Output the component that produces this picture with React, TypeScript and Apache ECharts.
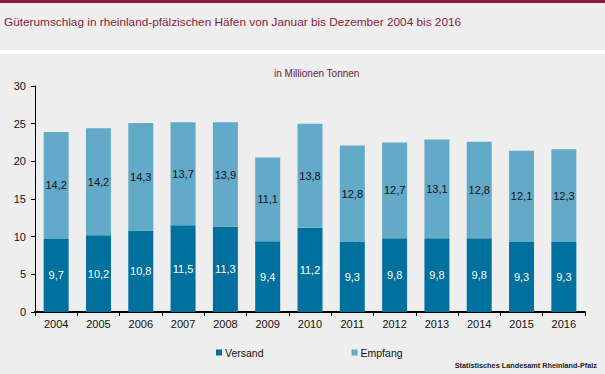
import React, { useEffect, useRef } from "react";
import * as echarts from "echarts";

const years = ["2004", "2005", "2006", "2007", "2008", "2009", "2010", "2011", "2012", "2013", "2014", "2015", "2016"];
const versand = [9.7, 10.2, 10.8, 11.5, 11.3, 9.4, 11.2, 9.3, 9.8, 9.8, 9.8, 9.3, 9.3];
const empfang = [14.2, 14.2, 14.3, 13.7, 13.9, 11.1, 13.8, 12.8, 12.7, 13.1, 12.8, 12.1, 12.3];
const seriesNames = ["Versand", "Empfang"];
const titleText = "Güterumschlag in rheinland-pfälzischen Häfen von Januar bis Dezember 2004 bis 2016";
const unitText = "in Millionen Tonnen";
const sourceText = "Statistisches Landesamt Rheinland-Pfalz";

const fmt = (v: number) => v.toFixed(1).replace(".", ",");
const FONT = "Liberation Sans, Arial, sans-serif";

export default function App() {
  const ref = useRef<HTMLDivElement>(null);
  useEffect(() => {
    document.body.style.margin = "0";
    const chart = echarts.init(ref.current!, undefined, { renderer: "svg" });
    chart.setOption({
      animation: false,
      backgroundColor: "#EEEEEE",
      textStyle: { fontFamily: FONT },
      graphic: [
        { type: "rect", left: 0, top: 0, shape: { width: 605, height: 3 }, style: { fill: "#8B1C36" } },
        { type: "rect", left: 0, top: 50, shape: { width: 605, height: 4 }, style: { fill: "#FFFFFF" } },
        {
          type: "text", left: 4, top: 16,
          style: { text: titleText, fill: "#8B1C3C", font: `11.8px ${FONT}` },
        },
        {
          type: "text", left: 274, top: 68,
          style: { text: unitText, fill: "#6A2038", font: `10px ${FONT}` },
        },
        {
          type: "text", right: 8, top: 362,
          style: { text: sourceText, fill: "#222", font: `bold 7.3px ${FONT}` },
        },
      ],
      legend: {
        left: 211,
        top: 342,
        itemWidth: 6,
        itemHeight: 6,
        itemGap: 88,
        icon: "rect",
        textStyle: { fontSize: 10.5, color: "#111", fontFamily: FONT, padding: [0, 0, 0, -2] },
        data: seriesNames,
      },
      grid: { left: 35, right: 20, top: 86, bottom: 62 },
      xAxis: {
        type: "category",
        data: years,
        axisLine: { lineStyle: { color: "#000", width: 2 } },
        axisTick: { show: true, length: 4, lineStyle: { color: "#000" } },
        axisLabel: { color: "#111", fontSize: 11, margin: 6, fontFamily: FONT },
      },
      yAxis: {
        type: "value",
        min: 0,
        max: 30,
        interval: 5,
        axisLine: { show: true, lineStyle: { color: "#000", width: 1 } },
        axisTick: { show: true, length: 4, lineStyle: { color: "#000" } },
        axisLabel: { color: "#111", fontSize: 11, margin: 9, fontFamily: FONT },
        splitLine: { show: false },
      },
      series: [
        {
          name: seriesNames[0],
          type: "bar",
          stack: "total",
          barWidth: 25,
          data: versand,
          itemStyle: { color: "#00709E" },
          label: {
            show: true, position: "inside", color: "#FFFFFF", fontSize: 11, fontFamily: FONT,
            formatter: (p: any) => fmt(p.value),
          },
        },
        {
          name: seriesNames[1],
          type: "bar",
          stack: "total",
          barWidth: 25,
          data: empfang,
          itemStyle: { color: "#63A9C8" },
          label: {
            show: true, position: "inside", color: "#111", fontSize: 11, fontFamily: FONT,
            formatter: (p: any) => fmt(p.value),
          },
        },
      ],
    });
    return () => chart.dispose();
  }, []);
  return <div ref={ref} style={{ width: 605, height: 374 }} />;
}
